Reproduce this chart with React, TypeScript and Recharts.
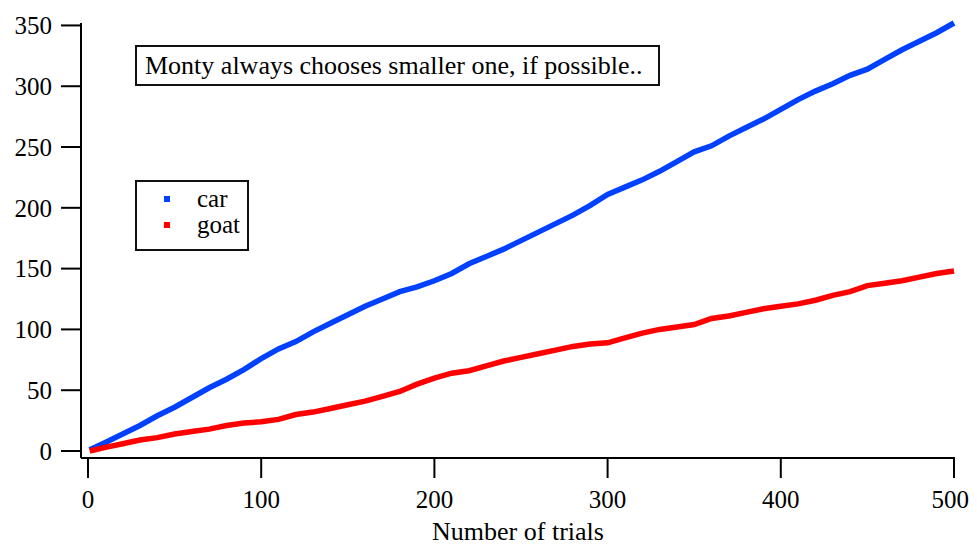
import { LineChart, Line, XAxis, YAxis, Legend, Label } from 'recharts';

const trials = [
  1, 10, 20, 30, 40, 50, 60, 70, 80, 90, 100, 110, 120, 130, 140, 150, 160, 170, 180, 190, 200,
  210, 220, 230, 240, 250, 260, 270, 280, 290, 300, 310, 320, 330, 340, 350, 360, 370, 380, 390,
  400, 410, 420, 430, 440, 450, 460, 470, 480, 490, 500,
];

const carCounts = [
  1, 7, 14, 21, 29, 36, 44, 52, 59, 67, 76, 84, 90, 98, 105, 112, 119, 125, 131, 135, 140,
  146, 154, 160, 166, 173, 180, 187, 194, 202, 211, 217, 223, 230, 238, 246, 251, 259, 266, 273,
  281, 289, 296, 302, 309, 314, 322, 330, 337, 344, 352,
];

const goatCounts = [
  0, 3, 6, 9, 11, 14, 16, 18, 21, 23, 24, 26, 30, 32, 35, 38, 41, 45, 49, 55, 60,
  64, 66, 70, 74, 77, 80, 83, 86, 88, 89, 93, 97, 100, 102, 104, 109, 111, 114, 117,
  119, 121, 124, 128, 131, 136, 138, 140, 143, 146, 148,
];

const xTicks = [0, 100, 200, 300, 400, 500];
const yTicks = [0, 50, 100, 150, 200, 250, 300, 350];

const seriesNames = ['car', 'goat'];
const seriesColors = ['#0040ff', '#ff0000'];

const rows = trials.map((t, i) => ({ trial: t, car: carCounts[i], goat: goatCounts[i] }));

const FONT = "'Liberation Serif', 'Times New Roman', serif";
const tickStyle = { fontSize: 25, fill: '#000' };

const LegendBox = () => (
  <div
    style={{
      width: 110,
      height: 63,
      border: '2px solid #111',
      background: '#fff',
      fontFamily: FONT,
      fontSize: 25,
      lineHeight: '26px',
      boxSizing: 'content-box',
      paddingTop: 4,
    }}
  >
    {seriesNames.map((name, i) => (
      <div key={name} style={{ display: 'flex', alignItems: 'center', height: 26 }}>
        <span
          style={{
            display: 'inline-block',
            width: 6,
            height: 6,
            background: seriesColors[i],
            marginLeft: 27,
            marginRight: 27,
          }}
        />
        <span>{name}</span>
      </div>
    ))}
  </div>
);

export default function App() {
  return (
    <div style={{ position: 'relative', width: 961, height: 538, fontFamily: FONT }}>
      <LineChart
        width={961}
        height={538}
        data={rows}
        margin={{ top: 15, right: 14, bottom: 0, left: 0 }}
        style={{ overflow: 'visible', fontFamily: FONT }}
      >
        <XAxis
          type="number"
          dataKey="trial"
          domain={[0, 500]}
          ticks={xTicks}
          padding={{ left: 7, right: 1 }}
          height={88}
          tickSize={20}
          tickMargin={12}
          stroke="#000"
          strokeWidth={2}
          tick={tickStyle}
          tickLine={{ stroke: '#000', strokeWidth: 2 }}
        >
          <Label
            value="Number of trials"
            position="insideBottom"
            offset={6}
            style={{ fontSize: 26, fill: '#000' }}
          />
        </XAxis>
        <YAxis
          type="number"
          domain={[0, 350]}
          ticks={yTicks}
          padding={{ top: 0, bottom: 7 }}
          width={73}
          tickSize={20}
          tickMargin={9}
          stroke="#000"
          strokeWidth={2}
          tick={tickStyle}
          tickLine={{ stroke: '#000', strokeWidth: 2 }}
        />
        <Legend
          layout="vertical"
          align="center"
          verticalAlign="middle"
          content={() => <LegendBox />}
          wrapperStyle={{ left: 127, top: 172, width: 'auto', height: 'auto' }}
        />
        <Line
          type="linear"
          dataKey="car"
          name="car"
          stroke={seriesColors[0]}
          strokeWidth={5.5}
          dot={false}
          isAnimationActive={false}
        />
        <Line
          type="linear"
          dataKey="goat"
          name="goat"
          stroke={seriesColors[1]}
          strokeWidth={5.5}
          dot={false}
          isAnimationActive={false}
        />
      </LineChart>
      <div
        style={{
          position: 'absolute',
          left: 127,
          top: 37,
          width: 513,
          height: 37,
          border: '2px solid #111',
          background: '#fff',
          fontSize: 26,
          lineHeight: '37px',
          paddingLeft: 8,
          boxSizing: 'content-box',
          whiteSpace: 'nowrap',
        }}
      >
        Monty always chooses smaller one, if possible..
      </div>
    </div>
  );
}
